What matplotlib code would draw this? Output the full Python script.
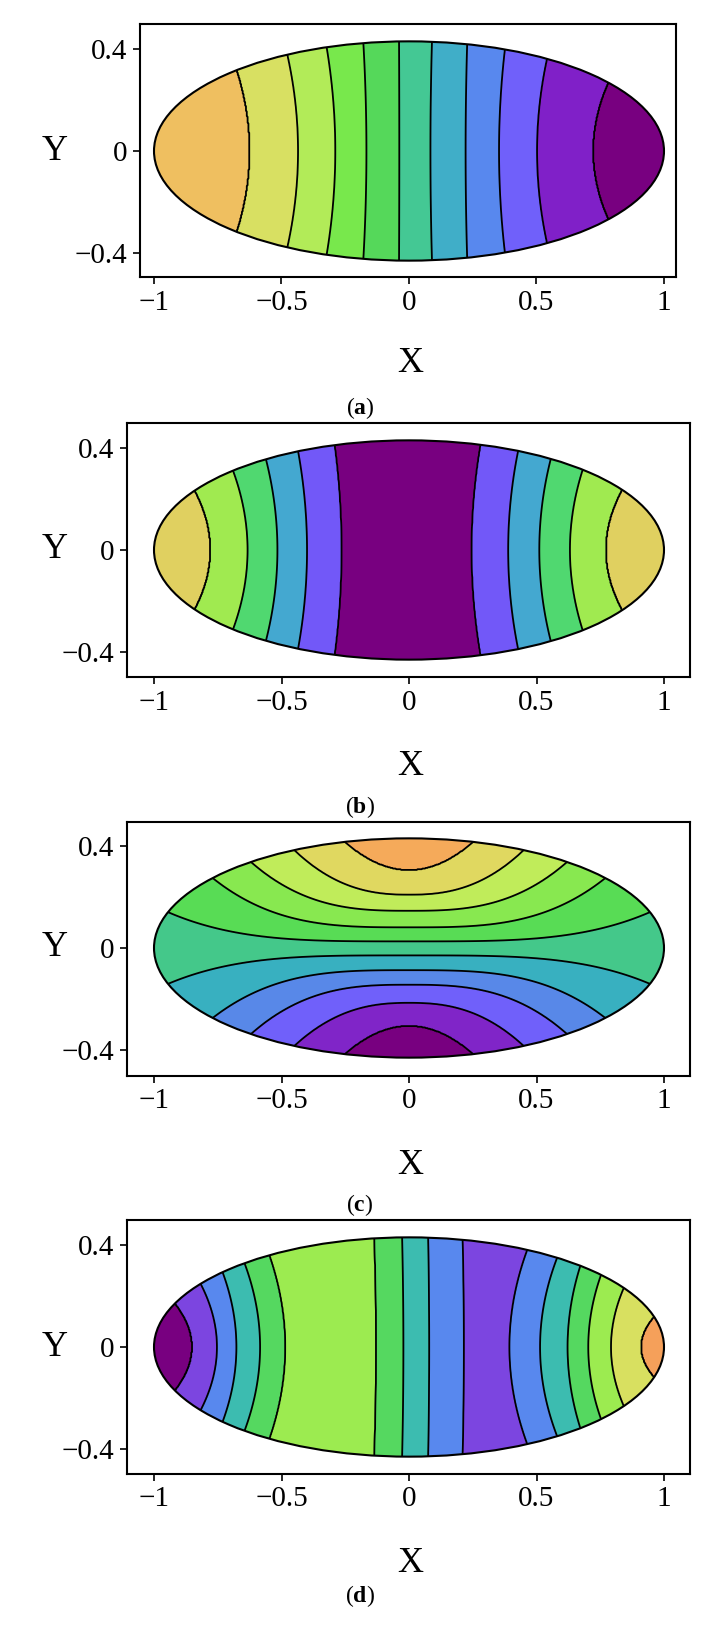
import numpy as np
import matplotlib
matplotlib.use('Agg')
import matplotlib.pyplot as plt
from matplotlib.patches import Ellipse

plt.rcParams['font.family'] = ['Liberation Serif', 'DejaVu Serif']
plt.rcParams['mathtext.fontset'] = 'custom'
plt.rcParams['mathtext.bf'] = 'Liberation Serif:bold'
plt.rcParams['mathtext.rm'] = 'Liberation Serif'

# ── data: contour line positions ───────────────────────────────────
B = 0.43  # semi-minor axis of the ellipse

# (a) x of each line at y=0 and where it meets the ellipse
a_center = [-0.627, -0.435, -0.289, -0.167, -0.038, 0.084, 0.222, 0.353, 0.502, 0.724]
a_edge = [-0.677, -0.477, -0.323, -0.179, -0.039, 0.090, 0.228, 0.376, 0.541, 0.783]
a_colors = ['#EFBF60', '#D8E062', '#B2EB58', '#78E84C', '#55D85A', '#44C894',
            '#40AEC8', '#5888EE', '#7060FA', '#8020C8', '#780080']

# (b)
b_center = [-0.781, -0.633, -0.516, -0.400, -0.265, 0.246, 0.389, 0.511, 0.631, 0.774]
b_edge = [-0.842, -0.690, -0.561, -0.435, -0.292, 0.281, 0.428, 0.556, 0.681, 0.837]
b_colors = ['#E0D060', '#A0EA50', '#50D870', '#44A8D0', '#7258F8', '#780080',
            '#7258F8', '#44A8D0', '#50D870', '#A0EA50', '#E0D060']

# (c) y of each line at x=0 and |x| where it meets the ellipse (bottom → top)
c_center = [-0.307, -0.215, -0.144, -0.087, -0.029, 0.026, 0.081, 0.146, 0.209, 0.307]
c_edge = [-0.25, -0.45, -0.62, -0.77, -0.945, 0.945, 0.77, 0.62, 0.45, 0.25]
c_colors = ['#780080', '#8025C8', '#7060FA', '#5888E8', '#38B0C0', '#44C88A',
            '#58DC55', '#88E850', '#C0EC5A', '#E0D860', '#F5AA5A']

# (d)
d_center = [-0.853, -0.753, -0.677, -0.584, -0.486, -0.129, -0.022, 0.079, 0.215,
            0.394, 0.514, 0.622, 0.703, 0.792, 0.912]
d_edge = [-0.919, -0.817, -0.731, -0.645, -0.548, -0.136, -0.027, 0.075, 0.210,
          0.464, 0.581, 0.672, 0.753, 0.842, 0.962]
d_colors = ['#780080', '#7C45E0', '#5888EE', '#3CBCB0', '#55D860', '#9CEB50',
            '#55D860', '#3CBCB0', '#5888EE', '#7C45E0', '#5888EE', '#3CBCB0',
            '#55D860', '#9CEB50', '#D8E060', '#F5A05A']

xticks = [-1, -0.5, 0, 0.5, 1]
xtick_labels = ['\u22121', '\u22120.5', '0', '0.5', '1']
yticks = [-0.4, 0, 0.4]
ytick_labels = ['\u22120.4', '0', '0.4']
captions = ['a', 'b', 'c', 'd']

W, H = 711, 1630
# frame boxes in pixels: left, right, top, bottom, y of zero
frames = [(140, 676, 24, 277, 151), (127, 690, 423, 677, 550),
          (127, 690, 822, 1076, 948), (127, 690, 1220, 1474, 1347)]
xlabel_y = [363, 767, 1165, 1563]
caption_y = [408, 807, 1205, 1596]

gx = np.linspace(-1.12, 1.12, 700)
gy = np.linspace(-0.52, 0.52, 400)
X, Y = np.meshgrid(gx, gy)


def field_vertical(center, edge):
    c = np.array(center)
    e = np.array(edge)
    ye = B * np.sqrt(1 - e ** 2)
    idx = np.arange(1, len(c) + 1)
    F = np.zeros_like(X)
    for j, yv in enumerate(gy):
        xs = c + (e - c) * (yv / ye) ** 2
        xs = np.maximum.accumulate(xs)
        F[j] = np.interp(gx, xs, idx, left=0, right=len(c) + 1)
    return F


def field_horizontal(center, edge):
    c = np.array(center)
    e = np.abs(np.array(edge))
    ye = np.sign(c) * B * np.sqrt(1 - e ** 2)
    p = 2 + 1.6 * (e - 0.25) / 0.7  # wider lines stay flat longer
    idx = np.arange(1, len(c) + 1)
    F = np.zeros_like(X)
    for i, xv in enumerate(gx):
        ys = c + (ye - c) * np.abs(xv / e) ** p
        # keep the order of the lines
        n = len(ys) // 2
        ys[:n] = np.minimum.accumulate(ys[:n][::-1])[::-1]
        ys[n:] = np.maximum.accumulate(ys[n:])
        F[:, i] = np.interp(gy, ys, idx, left=0, right=len(c) + 1)
    return F


panels = [(field_vertical(a_center, a_edge), a_colors),
          (field_vertical(b_center, b_edge), b_colors),
          (field_horizontal(c_center, c_edge), c_colors),
          (field_vertical(d_center, d_edge), d_colors)]

fig = plt.figure(figsize=(W / 100, H / 100), dpi=100)

for k, (F, cols) in enumerate(panels):
    l, r, t, b, y0 = frames[k]
    ax = fig.add_axes([l / W, 1 - b / H, (r - l) / W, (b - t) / H])
    ppu = 255.0
    x0 = 409
    ax.set_xlim((l - x0) / ppu, (r - x0) / ppu)
    ax.set_ylim((y0 - b) / ppu, (y0 - t) / ppu)

    n = len(cols) - 1
    levels = [-0.5] + list(range(1, n + 1)) + [n + 1.5]
    ell = Ellipse((0, 0), 2, 2 * B, transform=ax.transData, facecolor='none')
    cs = ax.contourf(X, Y, F, levels=levels, colors=cols)
    cs.set_clip_path(ell)
    cl = ax.contour(X, Y, F, levels=list(range(1, n + 1)), colors='black', linewidths=1.3)
    cl.set_clip_path(ell)
    ax.add_patch(Ellipse((0, 0), 2, 2 * B, facecolor='none', edgecolor='black', lw=1.5))

    ax.set_xticks(xticks)
    ax.set_xticklabels(xtick_labels)
    ax.set_yticks(yticks)
    ax.set_yticklabels(ytick_labels)
    ax.tick_params(labelsize=21, direction='out', length=5, width=1.2, pad=4)
    for s in ax.spines.values():
        s.set_linewidth(1.5)

    fig.text(55 / W, 1 - y0 / H, 'Y', fontsize=26, ha='center', va='center')
    fig.text(410 / W, 1 - xlabel_y[k] / H, 'X', fontsize=26, ha='center', va='center')
    fig.text(360 / W, 1 - caption_y[k] / H, r'($\mathbf{%s}$)' % captions[k],
             fontsize=17, ha='center', va='center')

fig.savefig('out.png', dpi=100)
